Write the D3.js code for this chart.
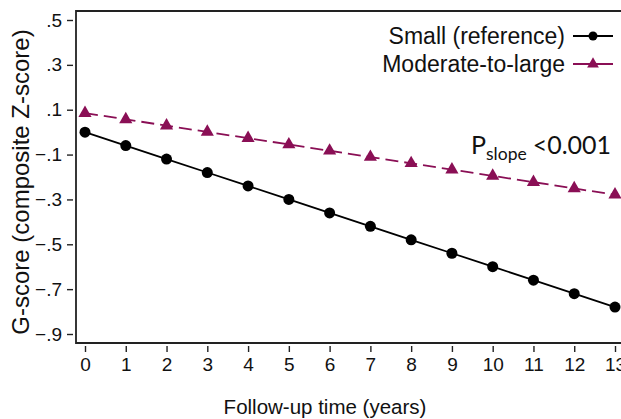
<!DOCTYPE html>
<html lang="en">
<head>
<meta charset="UTF-8">
<script src="https://d3js.org/d3.v7.min.js"></script>
<style>
    body { margin: 0; background: #fff; }
    text { font-family: "Liberation Sans", Arial, sans-serif; fill: #111; }
    .tick text { font-size: 19px; font-family: "Liberation Sans", Arial, sans-serif; fill: #111; }
    .axis-title { font-size: 20.5px; }
    .legend text { font-size: 23px; }
</style>
</head>
<body>
<svg id="chart" width="621" height="419"></svg>
<script>
    const years = [0, 1, 2, 3, 4, 5, 6, 7, 8, 9, 10, 11, 12, 13];
    const smallScores = [0.00, -0.06, -0.12, -0.18, -0.24, -0.30, -0.36, -0.42, -0.48, -0.54, -0.60, -0.66, -0.72, -0.78];
    const moderateScores = [0.085, 0.057, 0.029, 0.001, -0.027, -0.055, -0.083, -0.111, -0.139, -0.167, -0.195, -0.223, -0.251, -0.279];
    const yTicks = [0.5, 0.3, 0.1, -0.1, -0.3, -0.5, -0.7, -0.9];
    const seriesNames = ["Small (reference)", "Moderate-to-large"];

    const svg = d3.select("#chart");
    const purple = "#8a0f55";
    const frame = { left: 76, top: 11, bottom: 343, right: 640 };

    const x = d3.scaleLinear().domain([0, 13]).range([85, 615]);
    const y = d3.scaleLinear().domain([0.5, -0.9]).range([20, 334]);

    // frame: left, top, bottom
    svg.append("path")
        .attr("d", `M${frame.right},${frame.top}H${frame.left}V${frame.bottom}H${frame.right}`)
        .attr("fill", "none").attr("stroke", "#222").attr("stroke-width", 1.8);

    const fmt = d => d3.format(".1f")(d).replace("0.", ".");
    svg.append("g")
        .attr("transform", `translate(${frame.left - 3},0)`)
        .call(d3.axisLeft(y).tickValues(yTicks).tickFormat(fmt).tickSize(6).tickPadding(5))
        .call(g => g.select(".domain").remove())
        .call(g => g.selectAll("line").attr("stroke", "#222").attr("stroke-width", 1.4));

    svg.append("g")
        .attr("transform", `translate(0,${frame.bottom + 3})`)
        .call(d3.axisBottom(x).tickValues(years).tickFormat(d3.format("d")).tickSize(6).tickPadding(6))
        .call(g => g.select(".domain").remove())
        .call(g => g.selectAll("line").attr("stroke", "#222").attr("stroke-width", 1.4));

    svg.append("text").attr("class", "axis-title")
        .attr("x", 325).attr("y", 414).attr("text-anchor", "middle")
        .text("Follow-up time (years)");
    svg.append("text").attr("class", "axis-title")
        .style("font-size", "24px")
        .attr("transform", "translate(29,182) rotate(-90)").attr("text-anchor", "middle")
        .text("G-score (composite Z-score)");

    const line = d3.line().x((d, i) => x(years[i])).y(d => y(d));

    svg.append("path").datum(moderateScores)
        .attr("d", line).attr("fill", "none")
        .attr("stroke", purple).attr("stroke-width", 1.8).attr("stroke-dasharray", "13,6");
    svg.append("path").datum(smallScores)
        .attr("d", line).attr("fill", "none")
        .attr("stroke", "#000").attr("stroke-width", 1.8);

    const tri = d3.symbol().type(d3.symbolTriangle).size(75);
    svg.selectAll(".tri").data(moderateScores).enter().append("path")
        .attr("class", "tri")
        .attr("d", tri)
        .attr("transform", (d, i) => `translate(${x(years[i])},${y(d)})`)
        .attr("fill", purple);
    svg.selectAll(".dot").data(smallScores).enter().append("circle")
        .attr("class", "dot")
        .attr("cx", (d, i) => x(years[i])).attr("cy", d => y(d))
        .attr("r", 5.5).attr("fill", "#000");

    // legend
    const legend = svg.append("g").attr("class", "legend");
    [[seriesNames[0], "#000", "circle", 36], [seriesNames[1], purple, "tri", 64]].forEach(([name, c, m, ly]) => {
        legend.append("text").attr("x", 565).attr("y", ly + 8).attr("text-anchor", "end").text(name);
        legend.append("line").attr("x1", 573).attr("x2", 613).attr("y1", ly).attr("y2", ly)
            .attr("stroke", c).attr("stroke-width", 1.8);
        if (m === "circle") {
            legend.append("circle").attr("cx", 593).attr("cy", ly).attr("r", 4.5).attr("fill", c);
        } else {
            legend.append("path").attr("d", d3.symbol().type(d3.symbolTriangle).size(60))
                .attr("transform", `translate(593,${ly})`).attr("fill", c);
        }
    });

    const p = svg.append("text").attr("x", 471).attr("y", 154)
        .style("font-family", "Lato, 'Open Sans', sans-serif").style("font-size", "25px");
    p.append("tspan").text("P");
    p.append("tspan").attr("dy", 6).style("font-size", "17.5px").text("slope");
    p.append("tspan").attr("dy", -6).attr("dx", 6).text("<0.001");
</script>
</body>
</html>
